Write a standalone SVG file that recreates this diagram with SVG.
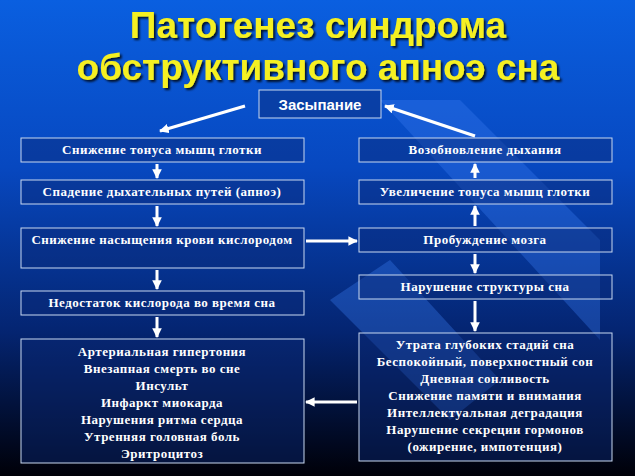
<svg xmlns="http://www.w3.org/2000/svg" width="635" height="476" viewBox="0 0 635 476">
<defs>
<linearGradient id="bg" x1="0" y1="0" x2="0" y2="1">
<stop offset="0" stop-color="#0a5fe0"/><stop offset="0.35" stop-color="#0748c0"/><stop offset="0.7" stop-color="#042470"/><stop offset="1" stop-color="#000008"/>
</linearGradient>
<marker id="ah" viewBox="0 0 10 10" refX="9" refY="5" markerWidth="3.2" markerHeight="3.2" orient="auto"><path d="M0,0L10,5L0,10z" fill="#fff"/></marker>
<filter id="sh"><feDropShadow dx="2" dy="2" stdDeviation="1" flood-color="#000" flood-opacity="0.8"/></filter>
</defs>
<style>
.b{fill:#0a2a78;fill-opacity:0.45;stroke:#c8d8f0;stroke-width:1}
.t{font-family:"Liberation Serif",serif;font-weight:bold;font-size:13px;letter-spacing:0.5px;fill:#fff;text-anchor:middle}
.c{stroke:#fff;stroke-width:3;fill:none;marker-end:url(#ah)}
</style>
<rect width="635" height="476" fill="url(#bg)"/>
<g fill="#3a7cf0" opacity="0.35">
<polygon points="380,100 460,100 600,240 600,340 "/>
<polygon points="330,300 390,260 500,380 450,420"/>
</g>
<g id="title" filter="url(#sh)" font-family="Liberation Sans,sans-serif" font-weight="bold" font-size="37" fill="#f5f020" text-anchor="middle">
<text x="318" y="38">Патогенез синдрома</text>
<text x="318" y="80">обструктивного апноэ сна</text>
</g>
<g id="n0"><rect class="b" x="259" y="90" width="122" height="28"/><text x="320" y="110" font-family="Liberation Sans,sans-serif" font-weight="bold" font-size="15" fill="#fff" text-anchor="middle">Засыпание</text></g>
<g id="l1"><rect class="b" x="21" y="138" width="283" height="24"/><text class="t" x="162" y="154">Снижение тонуса мышц глотки</text></g>
<g id="l2"><rect class="b" x="21" y="180" width="283" height="24"/><text class="t" x="162" y="196">Спадение дыхательных путей (апноэ)</text></g>
<g id="l3"><rect class="b" x="21" y="228" width="283" height="40"/><text class="t" x="162" y="244">Снижение насыщения крови кислородом</text></g>
<g id="l4"><rect class="b" x="21" y="291" width="283" height="24"/><text class="t" x="162" y="307">Недостаток кислорода во время сна</text></g>
<g id="l5"><rect class="b" x="21" y="339" width="283" height="124"/>
<text class="t" y="356"><tspan x="162">Артериальная гипертония</tspan><tspan x="162" dy="17">Внезапная смерть во сне</tspan><tspan x="162" dy="17">Инсульт</tspan><tspan x="162" dy="17">Инфаркт миокарда</tspan><tspan x="162" dy="17">Нарушения ритма сердца</tspan><tspan x="162" dy="17">Утренняя головная боль</tspan><tspan x="162" dy="17">Эритроцитоз</tspan></text></g>
<g id="r1"><rect class="b" x="359" y="138" width="253" height="24"/><text class="t" x="485" y="154">Возобновление дыхания</text></g>
<g id="r2"><rect class="b" x="359" y="180" width="253" height="24"/><text class="t" x="485" y="196">Увеличение тонуса мышц глотки</text></g>
<g id="r3"><rect class="b" x="359" y="228" width="253" height="24"/><text class="t" x="485" y="244">Пробуждение мозга</text></g>
<g id="r4"><rect class="b" x="359" y="275" width="253" height="24"/><text class="t" x="485" y="291">Нарушение структуры сна</text></g>
<g id="r5"><rect class="b" x="359" y="333" width="253" height="128"/>
<text class="t" y="349"><tspan x="485">Утрата глубоких стадий сна</tspan><tspan x="485" dy="17">Беспокойный, поверхностный сон</tspan><tspan x="485" dy="17">Дневная сонливость</tspan><tspan x="485" dy="17">Снижение памяти и внимания</tspan><tspan x="485" dy="17">Интеллектуальная деградация</tspan><tspan x="485" dy="17">Нарушение секреции гормонов</tspan><tspan x="485" dy="17">(ожирение, импотенция)</tspan></text></g>
<g id="connectors">
<line class="c" x1="245" y1="106" x2="160" y2="131"/>
<line class="c" x1="475" y1="136" x2="385" y2="106"/>
<line class="c" x1="157" y1="164" x2="157" y2="178"/>
<line class="c" x1="157" y1="206" x2="157" y2="226"/>
<line class="c" x1="157" y1="270" x2="157" y2="289"/>
<line class="c" x1="157" y1="317" x2="157" y2="337"/>
<line class="c" x1="306" y1="241" x2="357" y2="241"/>
<line class="c" x1="475" y1="178" x2="475" y2="164"/>
<line class="c" x1="475" y1="226" x2="475" y2="206"/>
<line class="c" x1="475" y1="254" x2="475" y2="273"/>
<line class="c" x1="475" y1="301" x2="475" y2="331"/>
<line class="c" x1="357" y1="402" x2="306" y2="402"/>
</g>
</svg>
